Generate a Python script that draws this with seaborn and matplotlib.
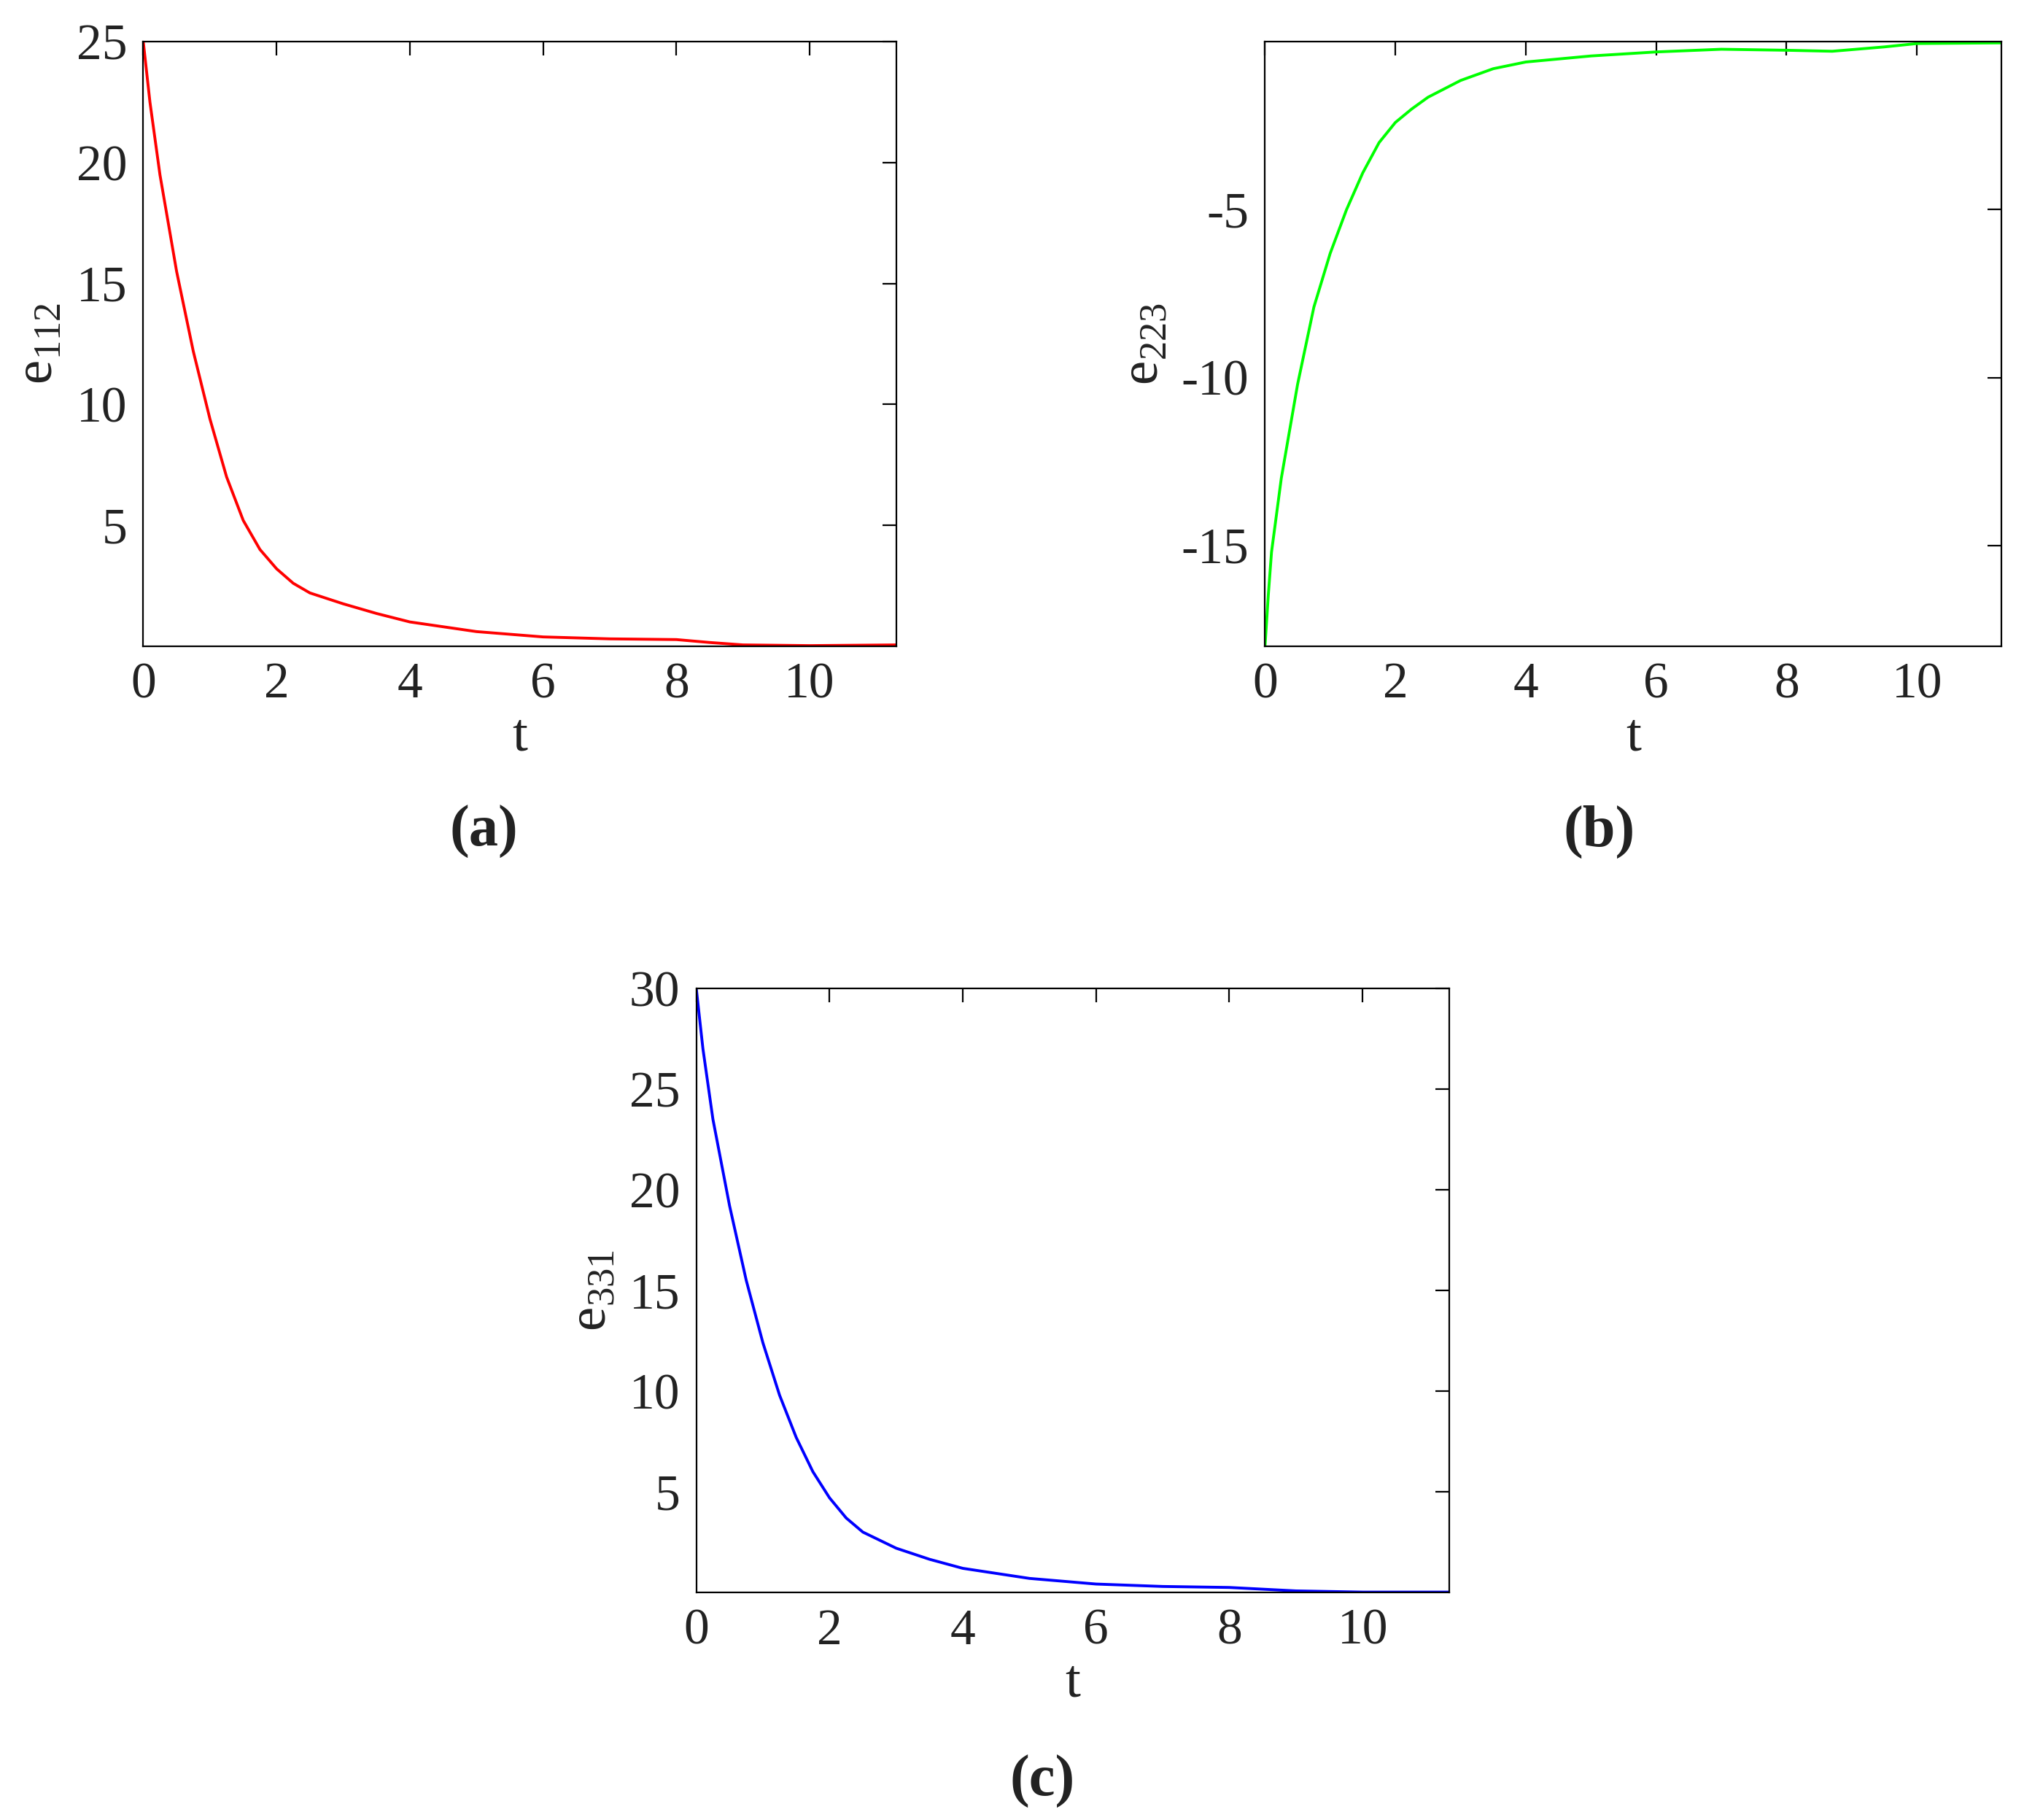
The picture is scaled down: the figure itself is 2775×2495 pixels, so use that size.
import matplotlib
matplotlib.use("Agg")
import matplotlib.pyplot as plt
import seaborn as sns

sns.set_style("white")
plt.rcParams["font.family"] = ["Liberation Serif", "DejaVu Serif"]
plt.rcParams["mathtext.fontset"] = "custom"
plt.rcParams["mathtext.rm"] = "Liberation Serif"
plt.rcParams["text.color"] = "#222222"

t_a = [0, 0.1, 0.25, 0.5, 0.75, 1.0, 1.25, 1.5, 1.75, 2.0, 2.25, 2.5, 3.0, 3.5, 4.0, 5.0, 6.0, 7.0, 8.0, 8.5, 9.0, 10.0, 11.3]
e112 = [25, 22.5, 19.5, 15.5, 12.2, 9.4, 7.0, 5.2, 4.0, 3.2, 2.6, 2.2, 1.75, 1.35, 1.0, 0.6, 0.38, 0.3, 0.27, 0.15, 0.05, 0.02, 0.05]

t_b = [0, 0.05, 0.1, 0.25, 0.5, 0.75, 1.0, 1.25, 1.5, 1.75, 2.0, 2.25, 2.5, 3.0, 3.5, 4.0, 5.0, 6.0, 7.0, 8.0, 8.7, 9.5, 10.0, 11.3]
e223 = [-18, -16.5, -15.2, -13.0, -10.2, -7.9, -6.3, -5.0, -3.9, -3.0, -2.4, -2.0, -1.65, -1.15, -0.8, -0.6, -0.42, -0.3, -0.22, -0.25, -0.28, -0.15, -0.05, -0.03]

t_c = [0, 0.1, 0.25, 0.5, 0.75, 1.0, 1.25, 1.5, 1.75, 2.0, 2.25, 2.5, 3.0, 3.5, 4.0, 5.0, 6.0, 7.0, 8.0, 9.0, 10.0, 11.3]
e331 = [30, 27, 23.5, 19.2, 15.5, 12.4, 9.8, 7.7, 6.0, 4.7, 3.7, 3.0, 2.2, 1.65, 1.2, 0.7, 0.42, 0.3, 0.25, 0.08, 0.02, 0.02]

panels = [
    dict(t=t_a, e=e112, color="#ff0000", lab=r"e$_{112}$", ylim=(0, 25), yt=[5, 10, 15, 20, 25],
         rect=[0.0708, 0.645, 0.372, 0.332], cap="(a)", cx=0.239, cy=0.543),
    dict(t=t_b, e=e223, color="#00ff00", lab=r"e$_{223}$", ylim=(-18, 0), yt=[-15, -10, -5],
         rect=[0.625, 0.645, 0.364, 0.332], cap="(b)", cx=0.79, cy=0.543),
    dict(t=t_c, e=e331, color="#0000ff", lab=r"e$_{331}$", ylim=(0, 30), yt=[5, 10, 15, 20, 25, 30],
         rect=[0.344, 0.125, 0.372, 0.332], cap="(c)", cx=0.515, cy=0.021),
]

fig = plt.figure(figsize=(13.875, 12.475), dpi=200)
for p in panels:
    ax = fig.add_axes(p["rect"])
    sns.lineplot(x=p["t"], y=p["e"], color=p["color"], lw=1.4, ax=ax)
    ax.set_xlim(0, 11.3)
    ax.set_ylim(*p["ylim"])
    ax.set_xticks([0, 2, 4, 6, 8, 10])
    ax.set_yticks(p["yt"])
    ax.set_yticklabels([str(v) for v in p["yt"]])
    ax.tick_params(direction="in", top=True, right=True, labelsize=25, length=7, width=0.8,
                   color="black", labelcolor="#222222", pad=8)
    for s in ax.spines.values():
        s.set_color("black"); s.set_linewidth(0.8)
    ax.set_xlabel("t", fontsize=27, color="#222222", labelpad=2)
    ax.set_ylabel(p["lab"], fontsize=27, color="#222222", labelpad=6)
    fig.text(p["cx"], p["cy"], p["cap"], fontsize=29, fontweight="bold", ha="center", va="center")

fig.savefig("out.png", dpi=200, facecolor="white")
